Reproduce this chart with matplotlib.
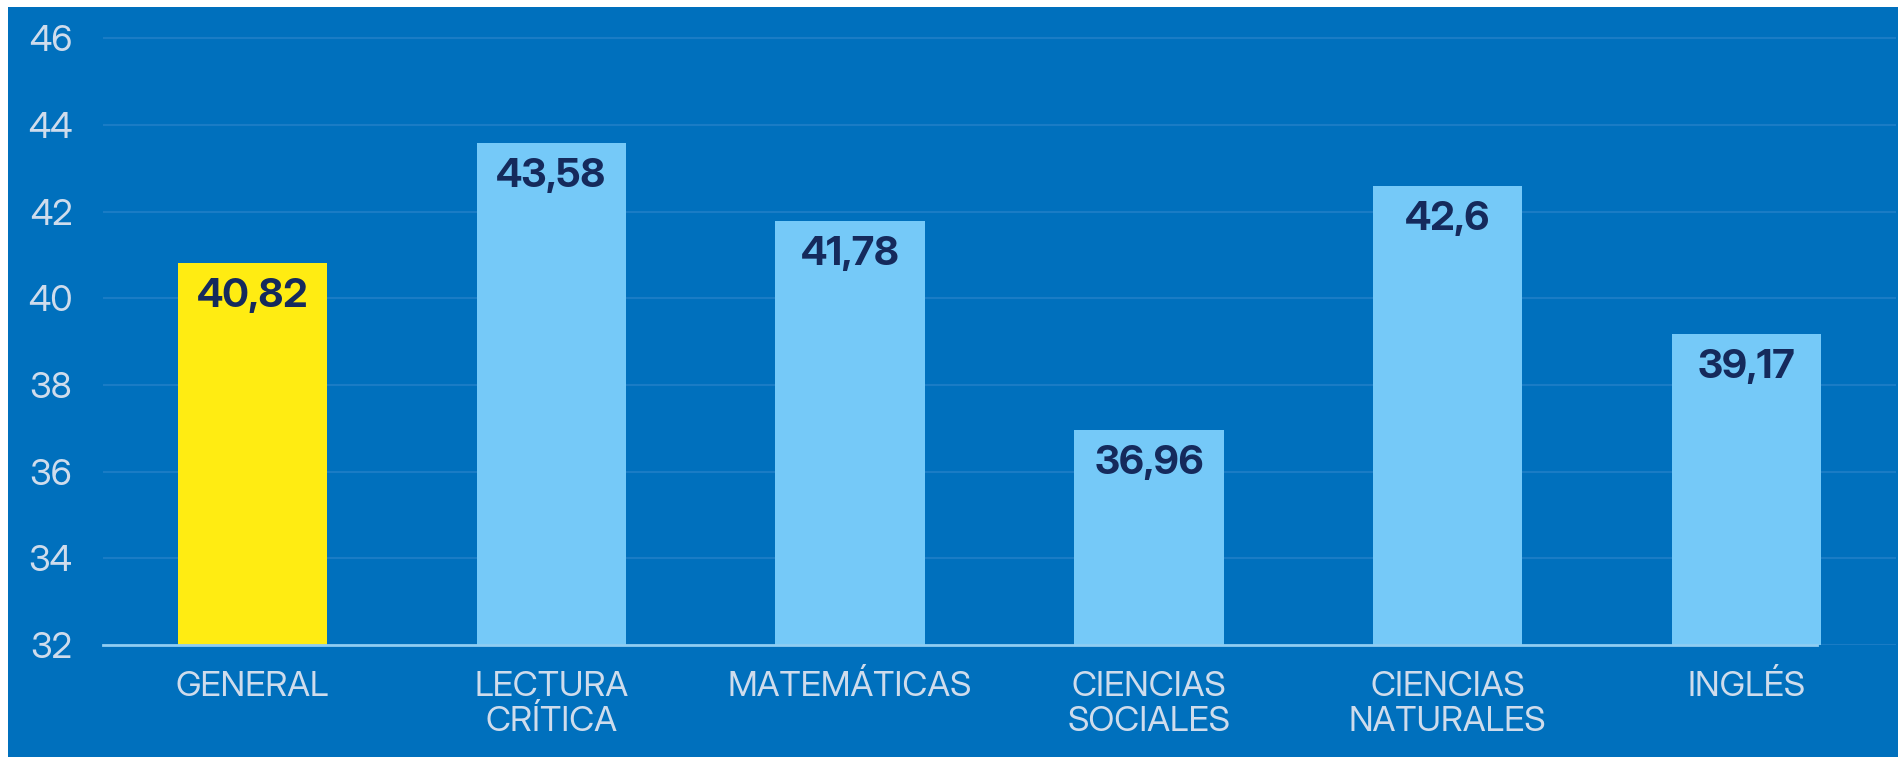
import matplotlib.pyplot as plt
from matplotlib.patches import Rectangle
import matplotlib.transforms as mtransforms

# datos del puntaje promedio por área
areas = ["GENERAL", "LECTURA\nCRÍTICA", "MATEMÁTICAS", "CIENCIAS\nSOCIALES",
         "CIENCIAS\nNATURALES", "INGLÉS"]
puntajes = [40.82, 43.58, 41.78, 36.96, 42.6, 39.17]
etiquetas = ["40,82", "43,58", "41,78", "36,96", "42,6", "39,17"]
y_ticks = [32, 34, 36, 38, 40, 42, 44, 46]

fondo = "#0070bd"
azul_claro = "#75c9f8"
amarillo = "#ffec12"
texto_eje = "#cfdcec"
texto_valor = "#152a5c"

fig = plt.figure(figsize=(18.99, 7.57), dpi=100, facecolor="white")
fig.patches.append(Rectangle((8 / 1899, 0), 1, 1 - 7 / 757, transform=fig.transFigure,
                             facecolor=fondo, edgecolor="none", zorder=-10))

ax = fig.add_axes([103 / 1899, 1 - 645 / 757, 1793 / 1899, (645 - 21) / 757])
ax.set_facecolor("none")
ax.set_zorder(1)

colores = [amarillo] + [azul_claro] * (len(areas) - 1)
x = list(range(len(areas)))
ax.bar(x, [p - 32 for p in puntajes], bottom=32, width=0.5, color=colores, zorder=3)

for xi, p, lab in zip(x, puntajes, etiquetas):
    ax.annotate(lab, (xi, p), xytext=(0, -24), textcoords="offset points",
                ha="center", va="center", fontsize=29, fontweight="bold",
                color=texto_valor, family="Inter Display", zorder=4)

ax.set_xlim(-0.5, len(areas) - 0.5)
ax.set_ylim(32, 46.4)
ax.set_yticks(y_ticks)
ax.set_xticks(x)
ax.set_xticklabels(areas, linespacing=1.12)
ax.tick_params(axis="y", length=0, pad=22, labelsize=26, labelcolor=texto_eje)
ax.tick_params(axis="x", length=0, pad=19, labelsize=25, labelcolor=texto_eje)
for t in ax.get_yticklabels() + ax.get_xticklabels():
    t.set_family("Inter Display")
    t.set_fontweight("normal")

ax.grid(axis="y", color="#1a7cc5", linewidth=1.5, zorder=1)
ax.set_axisbelow(True)
for s in ax.spines.values():
    s.set_visible(False)

# línea base hasta el borde de la última barra
trans = mtransforms.blended_transform_factory(ax.transAxes, ax.transData)
ax.plot([0, (1817 - 103) / 1793], [32, 32], transform=trans, color="#8fcdf2",
        linewidth=2, clip_on=False, zorder=5)

fig.savefig("out.png", dpi=100, facecolor=fig.get_facecolor())
